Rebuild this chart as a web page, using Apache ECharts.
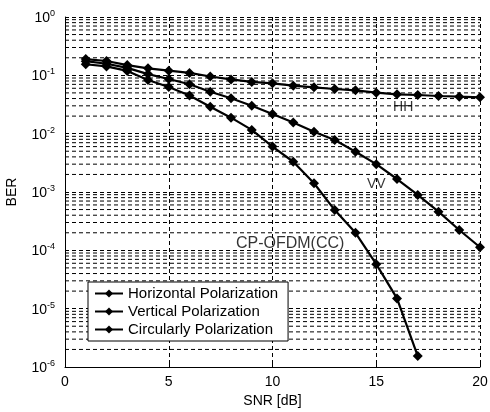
<!DOCTYPE html>
<html>
<head>
<meta charset="utf-8">
<script src="https://cdn.jsdelivr.net/npm/echarts@6/dist/echarts.min.js"></script>
<style>
  html, body { margin: 0; padding: 0; background: #fff; }
  #chart { width: 490px; height: 412px; }
</style>
</head>
<body>
<div id="chart"></div>
<script>
// SNR [dB]
const snr = [1, 2, 3, 4, 5, 6, 7, 8, 9, 10, 11, 12, 13, 14, 15, 16, 17, 18, 19, 20];

// BER
const berHH = [0.19, 0.176, 0.15, 0.132, 0.12, 0.11, 0.0955, 0.085, 0.077, 0.073,
  0.0664, 0.0623, 0.0583, 0.0554, 0.0504, 0.0473, 0.046, 0.0442, 0.043, 0.042];
const berVV = [0.175, 0.158, 0.134, 0.105, 0.0865, 0.0702, 0.0524, 0.0404, 0.0302, 0.0217,
  0.0156, 0.0108, 0.0078, 0.0049, 0.003, 0.00167, 0.00089, 0.00046, 0.000223, 0.000113];
const berCC = [0.155, 0.142, 0.119, 0.083, 0.063, 0.045, 0.029, 0.0188, 0.0116, 0.006,
  0.0033, 0.00141, 0.00049, 0.0002, 0.000058, 0.000015, 0.00000154];

const seriesNames = ['Horizontal Polarization', 'Vertical Polarization', 'Circularly Polarization'];
const xTicks = [0, 5, 10, 15, 20];

// curve labels: [text, snr, ber, font size]
const curveLabels = [
  ['HH', 16.3, 0.0286, 14],
  ['VV', 15.0, 0.00137, 14],
  ['CP-OFDM(CC)', 10.85, 0.000133, 16]
];

// minor horizontal grid (2..9 x 10^k)
const minorGrid = [];
for (let k = -6; k < 0; k++) {
  for (let m = 2; m <= 9; m++) minorGrid.push(m * Math.pow(10, k));
}

const chart = echarts.init(document.getElementById('chart'));

const pairs = (ys) => ys.map((v, i) => [snr[i], v]);
const dash = [4, 3];

const mkSeries = (name, ys) => ({
  name: name,
  type: 'line',
  data: pairs(ys),
  symbol: 'diamond',
  symbolSize: 10,
  itemStyle: { color: '#000' },
  lineStyle: { color: '#000', width: 2.2 },
  z: 5
});

const gridSeries = minorGrid.map((v) => ({
  type: 'line',
  data: [[0, v], [20, v]],
  symbol: 'none',
  silent: true,
  lineStyle: { color: '#000', width: 1, type: dash },
  z: 1
}));

const labelSeries = {
  type: 'scatter',
  silent: true,
  symbolSize: 1,
  itemStyle: { color: 'rgba(0,0,0,0)' },
  data: curveLabels.map((c) => ({
    value: [c[1], c[2]],
    name: c[0],
    label: { fontSize: c[3] }
  })),
  label: {
    show: true,
    position: 'inside',
    formatter: (p) => p.name,
    color: '#000',
    fontFamily: 'Liberation Sans'
  },
  z: 6
};

chart.setOption({
  animation: false,
  backgroundColor: '#fff',
  grid: { left: 65, right: 10, top: 17, bottom: 45, outerBoundsMode: 'none' },
  legend: {
    data: seriesNames,
    orient: 'vertical',
    left: 88,
    top: 282,
    itemWidth: 28,
    itemHeight: 10,
    itemGap: 3,
    padding: [4, 10, 4, 6],
    backgroundColor: '#fff',
    borderColor: '#000',
    borderWidth: 1,
    borderRadius: 0,
    textStyle: { color: '#000', fontFamily: 'Liberation Sans', fontSize: 15 }
  },
  xAxis: {
    type: 'value',
    min: 0,
    max: 20,
    interval: 5,
    name: 'SNR [dB]',
    nameLocation: 'middle',
    nameGap: 26,
    nameTextStyle: { color: '#000', fontFamily: 'Liberation Sans', fontSize: 14 },
    axisLine: { lineStyle: { color: '#000', width: 1 } },
    axisTick: { inside: true, length: 4, lineStyle: { color: '#000' } },
    axisLabel: {
      color: '#000', fontFamily: 'Liberation Sans', fontSize: 14, margin: 8,
      formatter: (v) => xTicks.includes(v) ? String(v) : ''
    },
    splitLine: { show: true, lineStyle: { color: '#000', type: dash, width: 1 } }
  },
  yAxis: {
    type: 'log',
    logBase: 10,
    min: 1e-6,
    max: 1,
    name: 'BER',
    nameLocation: 'middle',
    nameGap: 46,
    nameTextStyle: { color: '#000', fontFamily: 'Liberation Sans', fontSize: 14 },
    axisLine: { lineStyle: { color: '#000', width: 1 } },
    axisTick: { inside: true, length: 4, lineStyle: { color: '#000' } },
    axisLabel: {
      color: '#000',
      margin: 10,
      formatter: (v) => '{b|10}{s|' + Math.round(Math.log10(v)) + '}',
      rich: {
        b: { fontFamily: 'Liberation Sans', fontSize: 14, color: '#000', lineHeight: 16, verticalAlign: 'bottom' },
        s: { fontFamily: 'Liberation Sans', fontSize: 9, color: '#000', lineHeight: 16, verticalAlign: 'top', padding: [0, 0, 6, 0] }
      }
    },
    splitLine: { show: true, lineStyle: { color: '#000', type: dash, width: 1 } }
  },
  series: gridSeries.concat([
    mkSeries(seriesNames[0], berHH),
    mkSeries(seriesNames[1], berVV),
    mkSeries(seriesNames[2], berCC),
    labelSeries
  ])
});
</script>
</body>
</html>
